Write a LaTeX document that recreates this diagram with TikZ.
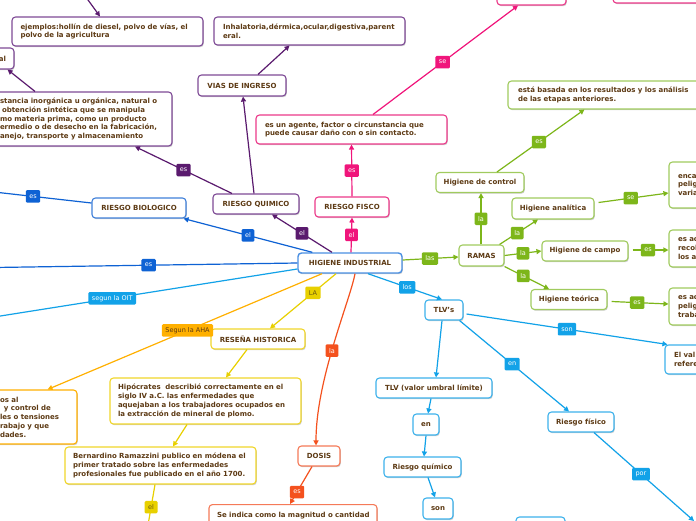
\documentclass[tikz,border=0pt]{standalone}
\usepackage{fontspec}
\setmainfont{DejaVu Sans}
\usetikzlibrary{arrows.meta,shadows}
\definecolor{txt}{HTML}{5D3A14}
\definecolor{purL}{HTML}{5A1A6E}
\definecolor{purB}{HTML}{7E4A96}
\definecolor{pnkL}{HTML}{F0157B}
\definecolor{pnkB}{HTML}{EC3A8A}
\definecolor{dbL}{HTML}{0E62D4}
\definecolor{dbB}{HTML}{3F80DA}
\definecolor{lbL}{HTML}{12A2E8}
\definecolor{lbB}{HTML}{3DB2EC}
\definecolor{grL}{HTML}{7DB61A}
\definecolor{grB}{HTML}{A0CB5E}
\definecolor{yeL}{HTML}{E8D000}
\definecolor{yeB}{HTML}{F0D62A}
\definecolor{yeT}{HTML}{6B5A10}
\definecolor{orL}{HTML}{FFB000}
\definecolor{rdL}{HTML}{F4511E}
\definecolor{rdB}{HTML}{F57A58}
\definecolor{hiB}{HTML}{4A8FE2}
\newcommand\nfont{\bfseries\fontsize{7}{8.8}\selectfont}
\newcommand\lfont{\fontsize{6.5}{7}\selectfont}
\tikzset{
 nd/.style={draw=#1, rounded corners=3.5pt, fill=white, line width=1.1pt, inner sep=0pt, text=txt, font=\nfont,
   drop shadow={shadow xshift=0.8pt, shadow yshift=-1.2pt, opacity=0.2, fill=black}},
 tb/.style 2 args={align=left, text width=#1, inner xsep=#2},
 lb/.style={fill=#1, text=white, font=\lfont, rounded corners=1.2pt, inner xsep=3.5pt, inner ysep=0pt, minimum height=12.5pt, minimum width=12.5pt},
 cn/.style={draw=#1, line width=1.2pt, -{Triangle[length=5pt,width=5pt]}},
}
\begin{document}
\begin{tikzpicture}[x=1pt,y=-1pt]
\useasboundingbox (0,0) rectangle (696,520);
\fill[white] (0,0) rectangle (696,520);

% central
\node[nd=hiB, line width=1.4pt, minimum width=104pt, minimum height=20pt] (hi) at (350,263) {HIGIENE INDUSTRIAL};

% purple
\node[nd=purB, minimum width=86pt, minimum height=20pt] (rq) at (256,204) {RIESGO QUIMICO};
\node[nd=purB, minimum width=88pt, minimum height=21pt] (vias) at (242,85.5) {VIAS DE INGRESO};
\node[nd=purB, tb={173pt}{9pt}, minimum height=28pt] (inhal) at (309.5,31) {\mbox{Inhalatoria,dérmica,ocular,digestiva,parent}\\eral.};
\node[nd=purB, tb={174pt}{8.5pt}, minimum height=29pt] (ejem) at (107.5,31.5) {\mbox{ejemplos:hollín de diesel, polvo de vías, el}\\\mbox{polvo de la agricultura}};
\node[nd=purB, tb={152pt}{20pt}, minimum height=54pt] (subst) at (76,119) {\mbox{stancia inorgánica u orgánica, natural o}\\\mbox{\hspace{2pt}obtención sintética que se manipula}\\\mbox{mo materia prima, como un producto}\\\mbox{ermedio o de desecho en la fabricación,}\\\mbox{anejo, transporte y almacenamiento}};
\node[nd=purB, align=right, text width=28pt, inner xsep=8pt, minimum height=21pt] (al) at (-8,58.5) {al};
\coordinate (top1) at (83.7,-6);

% pink
\node[nd=pnkB, minimum width=74pt, minimum height=20pt] (rfis) at (352,207) {RIESGO FISCO};
\node[nd=pnkB, tb={173pt}{9pt}, minimum height=29pt] (agente) at (351.5,129.5) {\mbox{es un agente, factor o circunstancia que}\\\mbox{puede causar daño con o sin contacto.}};
\node[nd=pnkB, minimum width=69pt, minimum height=40pt] (pk1) at (531.5,-15) {};
\node[nd=pnkB, minimum width=110pt, minimum height=40pt] (pk2) at (668,-17) {};

% dark blue
\node[nd=dbB, minimum width=94pt, minimum height=20pt] (rbio) at (139,208) {RIESGO BIOLOGICO};
\coordinate (lft1) at (-6,192);
\coordinate (lft2) at (-6,267.5);
\coordinate (lft3) at (-6,317);

% orange (AHA)
\node[nd=orL, tb={57pt}{20pt}, minimum height=54pt] (aha) at (28.5,417) {\mbox{os al}\\\mbox{\hspace{4pt}y control de}\\\mbox{les o tensiones}\\\mbox{rabajo y que}\\\mbox{dades.}};

% yellow
\node[nd=yeB, minimum width=94pt, minimum height=20pt] (resena) at (258,339) {RESEÑA HISTORICA};
\node[nd=yeB, tb={175pt}{8pt}, minimum height=46pt] (hipo) at (205.5,401) {\mbox{Hipócrates\ \ describió correctamente en el}\\\mbox{siglo IV a.C. las enfermedades que}\\\mbox{aquejaban a los trabajadores ocupados en}\\\mbox{la extracción de mineral de plomo.}};
\node[nd=yeB, tb={175pt}{8pt}, minimum height=37pt] (bern) at (160.5,465.5) {\mbox{Bernardino Ramazzini publico en módena el}\\\mbox{primer tratado sobre las enfermedades}\\\mbox{profesionales fue publicado en el año 1700.}};
\coordinate (bot1) at (147.5,528);

% orange-red
\node[nd=rdB, minimum width=42pt, minimum height=20pt] (dosis) at (319,456) {DOSIS};
\node[nd=rdB, tb={152pt}{8pt}, inner ysep=8pt, anchor=north] (seind) at (293,504) {\mbox{Se indica como la magnitud o cantidad}};

% green
\node[nd=grB, minimum width=45pt, minimum height=21pt] (ramas) at (481.5,255.5) {RAMAS};
\node[nd=grB, minimum width=88pt, minimum height=20pt] (hctl) at (480,182.5) {Higiene de control};
\node[nd=grB, minimum width=82pt, minimum height=21pt] (hana) at (553,208.5) {Higiene analítica};
\node[nd=grB, minimum width=86pt, minimum height=20pt] (hcam) at (585,251) {Higiene de campo};
\node[nd=grB, minimum width=76pt, minimum height=20pt] (hteo) at (569,299.5) {Higiene teórica};
\node[nd=grB, tb={180pt}{10pt}, minimum height=28pt] (basada) at (608,95) {\mbox{está basada en los resultados y los análisis}\\\mbox{de las etapas anteriores.}};
\node[nd=grB, tb={62pt}{9pt}, minimum height=46pt] (encar) at (709,185) {enca\\pelig\\varia};
\node[nd=grB, tb={62pt}{9pt}, minimum height=37pt] (esac1) at (709,248.5) {es ac\\recol\\los a};
\node[nd=grB, tb={62pt}{9pt}, minimum height=37pt] (esac2) at (709,306.5) {es ac\\pelig\\traba};

% light blue
\node[nd=lbB, minimum width=38pt, minimum height=20pt] (tlvs) at (444,310) {TLV's};
\node[nd=lbB, minimum width=116pt, minimum height=20pt] (tlvu) at (434,388) {TLV (valor umbral límite)};
\node[nd=lbB, minimum width=66pt, minimum height=20pt] (rfisi) at (581,422) {Riesgo físico};
\node[nd=lbB, minimum width=26pt, minimum height=21pt] (en) at (426,424.5) {en};
\node[nd=lbB, minimum width=77pt, minimum height=20pt] (rquim) at (422.5,467) {Riesgo químico};
\node[nd=lbB, minimum width=30pt, minimum height=21pt] (son) at (438,508.5) {son};
\node[nd=lbB, minimum width=49pt, minimum height=26pt] (bot) at (540.5,530) {};
\node[nd=lbB, tb={62pt}{9pt}, minimum height=29pt] (elval) at (705,359.5) {El val\\refere};
\coordinate (br1) at (694,521);

% connectors purple
\draw[cn=purL] ([xshift=-18pt]hi.north) -- ([xshift=16pt]rq.south) node[lb=purL,pos=0.5]{el};
\draw[cn=purL] ([xshift=-2pt]rq.north) -- ([xshift=1pt]vias.south);
\draw[cn=purL] ([xshift=16pt]vias.north) -- ([xshift=-20pt]inhal.south);
\draw[cn=purL] ([xshift=-24pt]rq.north) -- ([xshift=59pt]subst.south) node[lb=purL,pos=0.5]{es};
\draw[cn=purL] ([xshift=-41pt]subst.north) -- ([xshift=-7pt]al.south east);
\draw[cn=purL] (top1) -- ([xshift=-7.5pt]ejem.north);

% dark blue
\draw[cn=dbL] ([xshift=15pt]hi.north west) -- ([xshift=-3pt]rbio.south east) node[lb=dbL,pos=0.5]{el};
\draw[cn=dbL] ([yshift=5pt]rbio.west) -- (lft1) node[lb=dbL,pos=0.6]{es};
\draw[cn=dbL] (hi.west) -- (lft2) node[lb=dbL,pos=0.49]{es};
\draw[cn=lbL] ([yshift=-6pt]hi.west) -- (lft3) node[lb=lbL,pos=0.61]{segun la OIT};

% orange / yellow
\draw[cn=orL] ([xshift=-28pt]hi.south) -- ([xshift=-30pt]aha.north east) node[lb=orL,text=txt,pos=0.49]{Segun la AHA};
\draw[cn=yeL] ([xshift=-14pt]hi.south) -- ([xshift=12pt]resena.north) node[lb=yeL,text=yeT,pos=0.35]{LA};
\draw[cn=yeL] ([xshift=-11pt]resena.south) -- ([xshift=20.5pt]hipo.north);
\draw[cn=yeL] ([xshift=-18.5pt]hipo.south) -- ([xshift=12.5pt]bern.north);
\draw[cn=yeL] ([xshift=-5.5pt]bern.south) -- (bot1) node[lb=yeL,text=yeT,pos=0.52]{el};

% orange-red
\draw[cn=rdL] ([xshift=5pt]hi.south) .. controls +(-5,27) and +(0,-66) .. ([xshift=-3pt]dosis.north) node[lb=rdL,pos=0.53]{la};
\draw[cn=rdL] ([xshift=-7pt]dosis.south) -- ([xshift=-3pt]seind.north) node[lb=rdL,pos=0.68]{es};

% pink
\draw[cn=pnkL] ([xshift=1pt]hi.north) -- (rfis.south) node[lb=pnkL,pos=0.5]{el};
\draw[cn=pnkL] (rfis.north) -- (agente.south) node[lb=pnkL,pos=0.5]{es};
\draw[cn=pnkL] ([xshift=21.5pt]agente.north) -- ([xshift=-13.5pt]pk1.south) node[lb=pnkL,pos=0.48]{se};

% green
\draw[cn=grL] ([yshift=3pt]hi.east) -- ([yshift=-1.5pt]ramas.west) node[lb=grL,pos=0.49]{las};
\draw[cn=grL] ([xshift=-0.5pt]ramas.north) -- ([xshift=1pt]hctl.south) node[lb=grL,pos=0.5]{la};
\draw[cn=grL] ([xshift=17pt]hctl.north) -- ([xshift=77pt]basada.south west) node[lb=grL,pos=0.48]{es};
\draw[cn=grL] ([xshift=-5pt]ramas.north east) -- ([xshift=-15pt]hana.south) node[lb=grL,pos=0.46]{la};
\draw[cn=grL] ([xshift=4pt,yshift=6pt]hana.east) -- ([yshift=-8pt]encar.west) node[lb=grL,pos=0.46]{se};
\draw[cn=grL] (ramas.east) -- (hcam.west) node[lb=grL,pos=0.5]{la};
\draw[cn=grL] ([xshift=4pt,yshift=1pt]hcam.east) -- ([yshift=-1.5pt]esac1.west) node[lb=grL,pos=0.43]{es};
\draw[cn=grL] (ramas.south east) -- ([xshift=-20pt]hteo.north) node[lb=grL,pos=0.42]{la};
\draw[cn=grL] ([xshift=4pt,yshift=-2pt]hteo.east) -- ([yshift=2.5pt]esac2.west) node[lb=grL,pos=0.45]{es};

% light blue
\draw[cn=lbL] ([xshift=18pt]hi.south) -- ([xshift=-2pt]tlvs.north) node[lb=lbL,pos=0.53]{los};
\draw[cn=lbL] ([xshift=3pt,yshift=-4pt]tlvs.east) -- ([xshift=3pt]elval.north west) node[lb=lbL,pos=0.5]{son};
\draw[cn=lbL] ([xshift=-2pt]tlvs.south) -- ([xshift=2pt]tlvu.north);
\draw[cn=lbL] ([xshift=-4pt]tlvs.south east) -- ([xshift=-12pt]rfisi.north) node[lb=lbL,pos=0.48]{en};
\draw[cn=lbL] ([xshift=-3pt]tlvu.south) -- ([xshift=2pt]en.north);
\draw[cn=lbL] (en.south) -- ([xshift=1.5pt]rquim.north);
\draw[cn=lbL] ([xshift=5.5pt]rquim.south) -- ([xshift=-3pt]son.north);
\draw[cn=lbL] ([xshift=13pt]rfisi.south) -- (br1) node[lb=lbL,pos=0.47]{por};
\end{tikzpicture}
\end{document}
